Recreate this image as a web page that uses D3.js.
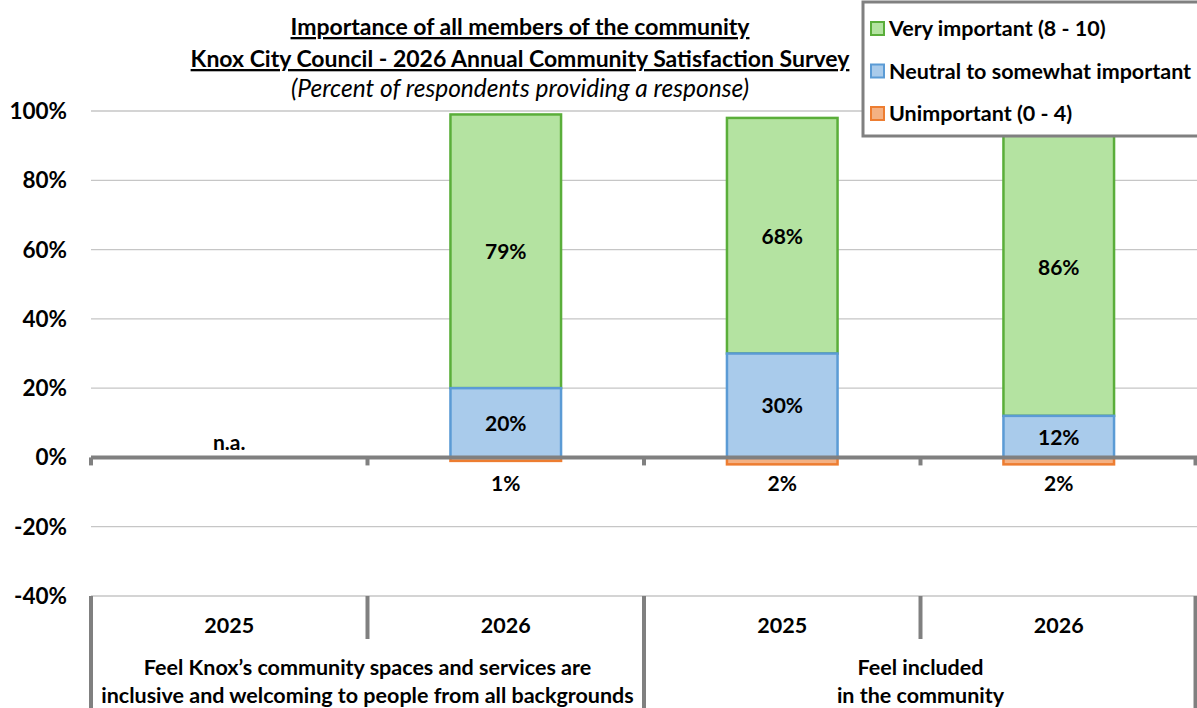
<!DOCTYPE html>
<html><head><meta charset="utf-8">
<script src="https://cdn.jsdelivr.net/npm/d3@7"></script>
<style>body{margin:0;background:#fff}svg{display:block;font-family:Lato,"Liberation Sans",sans-serif}</style>
</head><body><svg id="c" width="1197" height="708"></svg>
<script>
const categories = ["2025","2026","2025","2026"];
const groupLabels = [["Feel Knox\u2019s community spaces and services are","inclusive and welcoming to people from all backgrounds"],["Feel included","in the community"]];
const groupOf = [0,0,1,1];
const veryImportant = [null,79,68,86];
const neutral = [null,20,30,12];
const unimportant = [null,1,2,2];
const yTicks = [100,80,60,40,20,0,-20,-40];
const seriesNames = ["Very important (8 - 10)","Neutral to somewhat important","Unimportant (0 - 4)"];
const fills = ["#b4e3a1","#a9cbeb","#f4b183"];
const strokes = ["#5aae3a","#5b9bd5","#ed7d31"];

const svg = d3.select("#c");
const L=91,R=1197;
const y = d3.scaleLinear().domain([-40,100]).range([596,111]);
const x = d3.scaleBand().domain(d3.range(categories.length)).range([L,R]).paddingInner(0).paddingOuter(0);
const bw = x.bandwidth()*0.4;
const FS = 21.5;

svg.append("g").selectAll("line").data(yTicks.filter(d=>d!==0)).join("line")
 .attr("x1",L).attr("x2",R).attr("y1",d=>y(d)).attr("y2",d=>y(d)).attr("stroke","#c6c6c6").attr("stroke-width",1.3);
svg.append("g").selectAll("text").data(yTicks).join("text")
 .attr("x",67).attr("y",d=>y(d)+8).attr("text-anchor","end").attr("font-weight","bold").attr("font-size",22.5).text(d=>d+"%");

const bars = svg.append("g");
categories.forEach((c,i)=>{
  if(neutral[i]==null) return;
  const cx = x(i)+x.bandwidth()/2, x0=cx-bw/2;
  const segs=[
    {v0:neutral[i],v1:neutral[i]+veryImportant[i],k:0},
    {v0:0,v1:neutral[i],k:1},
    {v0:-unimportant[i],v1:0,k:2}];
  segs.forEach(s=>{
    bars.append("rect").attr("x",x0).attr("width",bw).attr("y",y(s.v1)).attr("height",y(s.v0)-y(s.v1))
     .attr("fill",fills[s.k]).attr("stroke",strokes[s.k]).attr("stroke-width",2.5);
  });
});
svg.append("line").attr("x1",L).attr("x2",R).attr("y1",y(0)).attr("y2",y(0)).attr("stroke","#808080").attr("stroke-width",4);
svg.append("g").selectAll("line").data(d3.range(categories.length+1)).join("line")
 .attr("x1",i=>i<categories.length?x(i):R-1.5).attr("x2",i=>i<categories.length?x(i):R-1.5).attr("y1",y(0)).attr("y2",y(0)+8).attr("stroke","#808080").attr("stroke-width",4);
const lab = svg.append("g").attr("font-weight","bold").attr("font-size",21).attr("text-anchor","middle");
categories.forEach((c,i)=>{
  const cx = x(i)+x.bandwidth()/2;
  if(neutral[i]==null){ lab.append("text").attr("x",cx).attr("y",y(0)-7).text("n.a."); return; }
  lab.append("text").attr("x",cx).attr("y",y(neutral[i]+veryImportant[i]/2)+8).text(veryImportant[i]+"%");
  lab.append("text").attr("x",cx).attr("y",y(neutral[i]/2)+8).text(neutral[i]+"%");
  lab.append("text").attr("x",cx).attr("y",y(0)+34).text(unimportant[i]+"%");
});
const cat = svg.append("g");
const yb = y(-40);
d3.range(categories.length+1).forEach(i=>{
  const xx = i<categories.length?x(i):R-1.5;
  const full = (i%2===0);
  cat.append("line").attr("x1",xx).attr("x2",xx).attr("y1",yb).attr("y2",full?708:yb+43).attr("stroke","#808080").attr("stroke-width",4);
});
categories.forEach((c,i)=>{
  cat.append("text").attr("x",x(i)+x.bandwidth()/2).attr("y",633).attr("text-anchor","middle").attr("font-weight","bold").attr("font-size",FS).text(c);
});
groupLabels.forEach((g,gi)=>{
  const idx = d3.range(categories.length).filter(i=>groupOf[i]===gi);
  const cx = (x(idx[0])+x(idx[idx.length-1])+x.bandwidth())/2;
  g.forEach((t,k)=>cat.append("text").attr("x",cx).attr("y",675+k*28).attr("text-anchor","middle").attr("font-weight","bold").attr("font-size",FS).text(t));
});
const tt = svg.append("g").attr("text-anchor","middle");
tt.append("text").attr("x",520).attr("y",35).attr("font-size",23).attr("font-weight","bold").attr("text-decoration","underline").text("Importance of all members of the community");
tt.append("text").attr("x",520).attr("y",67).attr("font-size",23).attr("font-weight","bold").attr("text-decoration","underline").text("Knox City Council - 2026 Annual Community Satisfaction Survey");
tt.append("text").attr("x",520).attr("y",97).attr("font-size",24.5).attr("font-style","italic").text("(Percent of respondents providing a response)");
const lg = svg.append("g");
lg.append("rect").attr("x",863).attr("y",2).attr("width",340).attr("height",134).attr("fill","#fff").attr("stroke","#808080").attr("stroke-width",3);
seriesNames.forEach((n,k)=>{
  const cy = 28+k*42.5;
  lg.append("rect").attr("x",871).attr("y",cy-6).attr("width",13).attr("height",13).attr("fill",fills[k]).attr("stroke",strokes[k]).attr("stroke-width",2);
  lg.append("text").attr("x",889).attr("y",cy+8).attr("font-weight","bold").attr("font-size",FS).text(n);
});
</script></body></html>
